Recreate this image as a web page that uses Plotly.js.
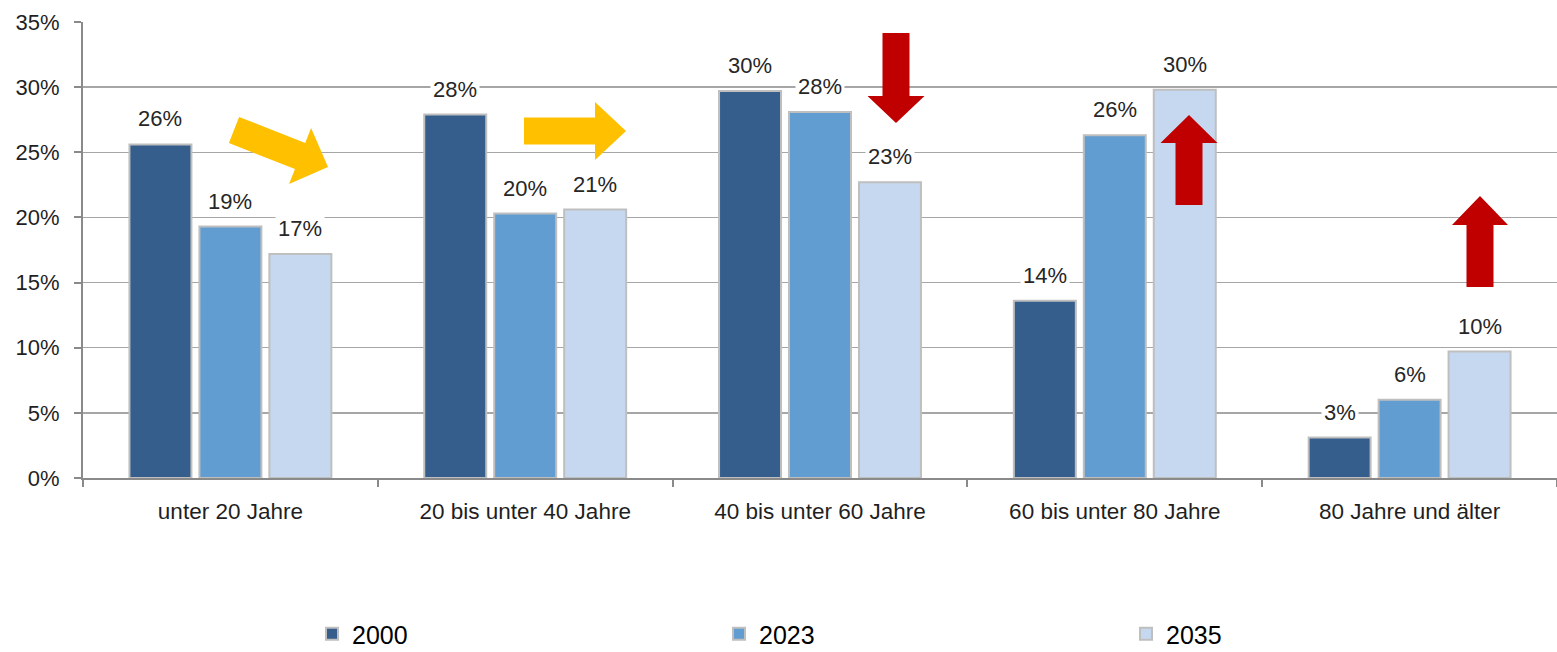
<!DOCTYPE html>
<html>
<head>
<meta charset="utf-8">
<script src="https://cdn.plot.ly/plotly-3.0.1.min.js"></script>
<style>
  html, body { margin: 0; padding: 0; background: #fff; }
  #chart { width: 1557px; height: 652px; }
</style>
</head>
<body>
<div id="chart"></div>
<script>
const categories = ["unter 20 Jahre", "20 bis unter 40 Jahre", "40 bis unter 60 Jahre", "60 bis unter 80 Jahre", "80 Jahre und älter"]
const years = ["2000", "2023", "2035"]
const values2000 = [25.6, 27.9, 29.7, 13.6, 3.1]
const values2023 = [19.3, 20.3, 28.1, 26.3, 6.0]
const values2035 = [17.2, 20.6, 22.7, 29.8, 9.7]
const yTicks = [0, 5, 10, 15, 20, 25, 30, 35]

const colors = ["#355E8D", "#619DD0", "#C6D8EF"]
const series = [values2000, values2023, values2035]

// plot area in pixels, used to place the decorative arrows
const plotLeft = 83, plotRight = 1557, plotTop = 22, plotBottom = 478
const px = (x) => (x - plotLeft) / (plotRight - plotLeft)
const py = (y) => (plotBottom - y) / (plotBottom - plotTop)

const font = "Liberation Sans, Arial, sans-serif"

const traces = series.map((vals, i) => ({
    type: "bar",
    name: years[i],
    x: categories,
    y: vals,
    marker: { color: colors[i], line: { color: "#BFBFBF", width: 2 } },
    hoverinfo: "skip"
}))

// value labels with white background, like the original
const offsets = [-0.2373, 0, 0.2373]
const annotations = []
series.forEach((vals, i) => {
    vals.forEach((v, c) => {
        annotations.push({
            xref: "x", yref: "y",
            x: c + offsets[i], y: v,
            yanchor: "bottom", yshift: 10,
            text: Math.round(v) + "%",
            showarrow: false,
            bgcolor: "#ffffff",
            borderpad: 2,
            font: { family: font, size: 22, color: "#262626" }
        })
    })
})

// block arrow as a closed path, given start, tip and widths in pixels
const arrow = (x0, y0, x1, y1, shaft, head, headLen, color) => {
    const dx = x1 - x0, dy = y1 - y0
    const len = Math.sqrt(dx * dx + dy * dy)
    const ux = dx / len, uy = dy / len
    const nx = -uy, ny = ux
    const bx = x1 - ux * headLen, by = y1 - uy * headLen
    const pts = [
        [x0 + nx * shaft / 2, y0 + ny * shaft / 2],
        [bx + nx * shaft / 2, by + ny * shaft / 2],
        [bx + nx * head / 2, by + ny * head / 2],
        [x1, y1],
        [bx - nx * head / 2, by - ny * head / 2],
        [bx - nx * shaft / 2, by - ny * shaft / 2],
        [x0 - nx * shaft / 2, y0 - ny * shaft / 2]
    ]
    const path = "M " + pts.map(p => px(p[0]).toFixed(5) + "," + py(p[1]).toFixed(5)).join(" L ") + " Z"
    return {
        type: "path", xref: "paper", yref: "paper",
        path, fillcolor: color, line: { width: 0 }, layer: "above"
    }
}

const yellow = "#FFC000", red = "#C00000"
const shapes = [
    arrow(234, 130, 328, 167, 28, 60, 30, yellow),
    arrow(524, 131, 626, 131, 27, 58, 31, yellow),
    arrow(896, 33, 896, 123, 27, 57, 27, red),
    arrow(1189, 205, 1189, 115, 27, 57, 28, red),
    arrow(1480, 287, 1480, 196, 27, 56, 29, red)
]

const layout = {
    width: 1557,
    height: 652,
    margin: { l: plotLeft, r: 0, t: plotTop, b: 652 - plotBottom, autoexpand: false },
    paper_bgcolor: "#ffffff",
    plot_bgcolor: "#ffffff",
    barmode: "group",
    bargap: 0.288,
    bargroupgap: 0.114,
    font: { family: font, size: 22, color: "#1F1F1F" },
    xaxis: {
        type: "category",
        showline: true, linecolor: "#8A8A8A", linewidth: 2,
        ticks: "outside", tickson: "boundaries", ticklen: 7, tickwidth: 2, tickcolor: "#8A8A8A",
        ticklabelstandoff: 12,
        tickfont: { family: font, size: 22.5, color: "#1F1F1F" },
        showgrid: false, zeroline: false,
        fixedrange: true
    },
    yaxis: {
        range: [0, 35],
        tickvals: yTicks,
        ticktext: yTicks.map(t => t + "%"),
        showline: true, linecolor: "#8A8A8A", linewidth: 2,
        ticks: "outside", ticklen: 7, tickwidth: 2, tickcolor: "#8A8A8A",
        ticklabelstandoff: 10,
        showgrid: true, gridcolor: "#A6A6A6", gridwidth: 1.5,
        zeroline: false,
        tickfont: { family: font, size: 22, color: "#1F1F1F" },
        fixedrange: true
    },
    showlegend: true,
    legend: {
        orientation: "h",
        xref: "container", yref: "container",
        x: 312 / 1557, xanchor: "left",
        y: (652 - 634) / 652, yanchor: "middle",
        entrywidth: 362, entrywidthmode: "pixels",
        font: { family: font, size: 25, color: "#000000" },
        bgcolor: "rgba(0,0,0,0)"
    },
    annotations,
    shapes
}

Plotly.newPlot("chart", traces, layout, { displayModeBar: false, staticPlot: true })
</script>
</body>
</html>
